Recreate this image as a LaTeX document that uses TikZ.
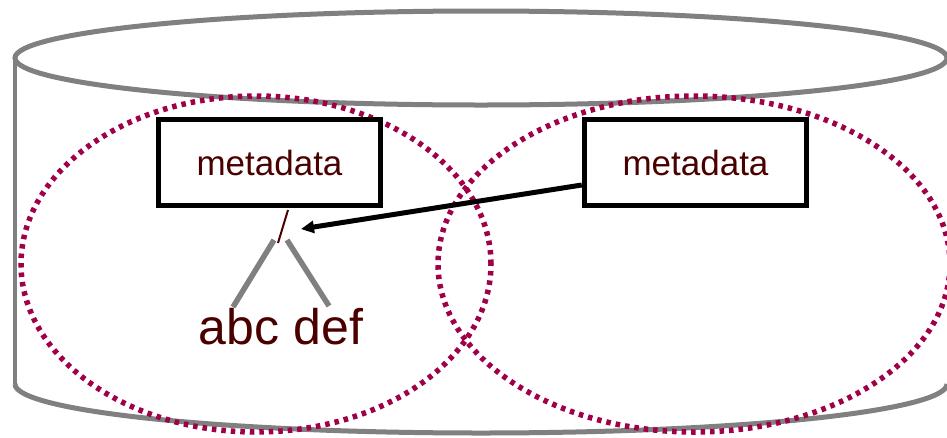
\documentclass[tikz,border=0pt]{standalone}
\usepackage{fontspec}
\setmainfont{Liberation Sans}
\usetikzlibrary{arrows.meta}
\definecolor{cylgray}{RGB}{128,128,128}
\definecolor{dotred}{RGB}{160,0,74}
\definecolor{txtred}{RGB}{75,0,0}
\tikzset{
  cyl/.style={draw=cylgray, line width=5pt},
  zone/.style={draw=dotred, line width=5.5pt, dash pattern=on 4.5pt off 5pt},
  metabox/.style={draw=black, fill=white, line width=5.5pt, minimum width=222pt, minimum height=86pt, text=txtred, font=\fontsize{35}{40}\selectfont},
  treeline/.style={draw=cylgray, line width=5.5pt},
  bigtext/.style={text=txtred, font=\fontsize{50}{56}\selectfont},
}
\begin{document}
\begin{tikzpicture}[x=1pt,y=-1pt]
\useasboundingbox (0,0) rectangle (947,437);
\clip (0,0) rectangle (947,437);
% cylinder
\draw[cyl, line width=4pt] (15,384) -- (15,58);
\draw[cyl] (15,384) arc[start angle=180, end angle=360, x radius=466pt, y radius=49pt];
\draw[cyl] (481,58) ellipse[x radius=466pt, y radius=47pt];
% dotted zones
\draw[zone] (256,264) ellipse[x radius=235pt, y radius=168pt];
\draw[zone] (694,264) ellipse[x radius=256pt, y radius=168pt];
% boxes
\node[metabox] (lbox) at (269.5,162.5) {metadata};
\node[metabox] (rbox) at (695.5,162.5) {metadata};
% tree
\coordinate (slashtop) at (288,210);
\coordinate (slashbot) at (278,243);
\draw[txtred, line width=2pt] (slashtop) -- (slashbot);
\coordinate (ltop) at (274,240);
\coordinate (lbot) at (233,307);
\coordinate (rtop) at (287,240);
\coordinate (rbot) at (329,306);
\draw[treeline] (ltop) -- (lbot);
\draw[treeline] (rtop) -- (rbot);
\node[bigtext] (abc) at (281,327) {abc def};
% arrow
\coordinate (tip) at (301,229);
\draw[line width=5pt, -{Triangle[length=13pt,width=12pt]}] (rbox.west |- 0,185) -- (tip);
\end{tikzpicture}
\end{document}
